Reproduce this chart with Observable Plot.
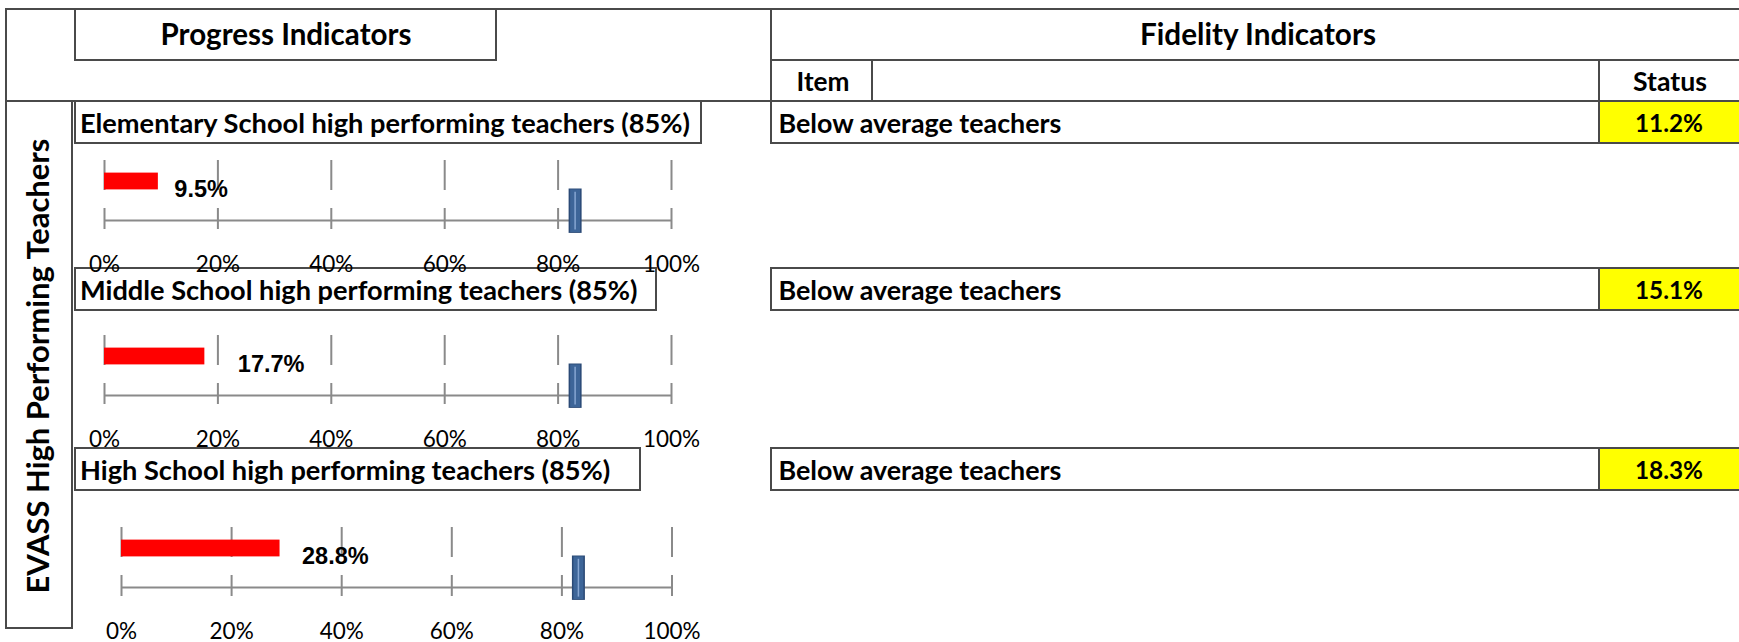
<!DOCTYPE html>
<html><head><meta charset="utf-8">
<script src="https://cdn.jsdelivr.net/npm/d3@7"></script>
<script src="https://cdn.jsdelivr.net/npm/@observablehq/plot@0.6"></script>
<style>
html,body{margin:0;padding:0;background:#fff;}
#root{position:relative;width:1739px;height:642px;overflow:hidden;background:#fff;}
.box{position:absolute;box-sizing:border-box;border:2px solid #4a4a4a;}
.t{position:absolute;white-space:nowrap;color:#000;line-height:1;}
.chart{position:absolute;left:0;}
</style></head><body><div id="root"></div>
<script>
// ---- data ----
const sectionLabel = "EVASS High Performing Teachers";
const progressHeader = "Progress Indicators";
const fidelityHeader = "Fidelity Indicators";
const fidelityColumns = ["Item", "Status"];
const indicators = [
  "Elementary School high performing teachers (85%)",
  "Middle School high performing teachers (85%)",
  "High School high performing teachers (85%)"
];
const progressValues = [9.5, 17.7, 28.8];
const targetValues = [83, 83, 83];
const axisTicks = [0, 20, 40, 60, 80, 100];
const fidelityItems = ["Below average teachers", "Below average teachers", "Below average teachers"];
const fidelityValues = [11.2, 15.1, 18.3];

// ---- layout (pixels) ----
const rows = [
  {top: 101, bottom: 143, titleRight: 701, chartTop: 160, x0: 104, x1: 671, labelDx: 16},
  {top: 268, bottom: 310, titleRight: 656, chartTop: 335, x0: 104, x1: 671, labelDx: 33},
  {top: 448, bottom: 490, titleRight: 640, chartTop: 527, x0: 121, x1: 671.5, labelDx: 22}
];
const root = document.getElementById("root");

function rect(x1, y1, x2, y2, bg) {
  const d = document.createElement("div");
  d.className = "box";
  Object.assign(d.style, {left: (x1 - 1) + "px", top: (y1 - 1) + "px", width: (x2 - x1 + 2) + "px", height: (y2 - y1 + 2) + "px"});
  if (bg) d.style.background = bg;
  root.appendChild(d);
  return d;
}
function label(str, x, y, o = {}) {
  const {anchor = "middle", width = null, size = 22, weight = 700, family = "Lato, 'Open Sans', sans-serif", rotate = false} = o;
  const d = document.createElement("div");
  d.className = "t";
  d.textContent = str;
  Object.assign(d.style, {left: x + "px", top: y + "px", fontFamily: family, fontWeight: weight, fontSize: size + "px"});
  root.appendChild(d);
  let s = size;
  if (width) {
    const w = d.getBoundingClientRect().width;
    s = size * width / w;
    d.style.fontSize = s + "px";
  }
  const tx = anchor === "start" ? "0" : anchor === "end" ? "-100%" : "-50%";
  d.style.transform = `translate(${tx},-50%)` + (rotate ? " rotate(-90deg)" : "");
  return s;
}

// frame
rect(6, 9, 1745, 101);
rect(75, 9, 496, 60);
rect(771, 9, 1745, 60);
rect(771, 60, 872, 101);
rect(872, 60, 1599, 101);
rect(1599, 60, 1745, 101);
rect(6, 101, 72, 628);

label(progressHeader, 286, 34, {width: 251, size: 24});
label(fidelityHeader, 1258, 34, {width: 236, size: 24});
label(fidelityColumns[0], 823, 81, {width: 53, size: 22});
label(fidelityColumns[1], 1670, 81, {width: 74, size: 22});
label(sectionLabel, 37, 366, {width: 455, size: 28, rotate: true});

let titleSize = null;
rows.forEach((L, i) => {
  rect(75, L.top, L.titleRight, L.bottom);
  const cy = (L.top + L.bottom) / 2 + 1;
  if (titleSize === null) titleSize = label(indicators[i], 80, cy, {anchor: "start", width: 610, size: 22});
  else label(indicators[i], 80, cy, {anchor: "start", size: titleSize});
  // fidelity row
  rect(771, L.top, 1745, L.bottom);
  rect(1599, L.top, 1745, L.bottom, "#ffff00");
  label(fidelityItems[i], 778.5, cy, {anchor: "start", width: 283, size: 22});
  label(fidelityValues[i].toFixed(1) + "%", 1669, cy, {width: 68, size: 22});
});

// bullet charts
const gridColor = "#8a8a8a";
rows.forEach((L, i) => {
  const W = 740, mTop = 20, plotH = 60, mBottom = 70;
  const H = mTop + plotH + mBottom;
  const tickEnd = 1 + 9 / plotH;
  const v = progressValues[i], t = targetValues[i];
  const svg = Plot.plot({
    width: W, height: H,
    marginLeft: L.x0, marginRight: W - L.x1, marginTop: mTop, marginBottom: mBottom,
    x: {domain: [0, 100]},
    y: {domain: [0, 1], reverse: true, axis: null},
    style: {background: "transparent", overflow: "visible", fontFamily: "Lato, sans-serif", fontSize: "22.5px", color: "#000"},
    marks: [
      Plot.ruleX(axisTicks, {y1: 0, y2: tickEnd, stroke: gridColor, strokeWidth: 2, strokeDasharray: "30,18"}),
      Plot.ruleY([1], {x1: 0, x2: 100, stroke: gridColor, strokeWidth: 2}),
      Plot.axisX({ticks: axisTicks, tickSize: 0, tickPadding: 36, tickFormat: d => d + "%", fontSize: 22.5, fontFamily: "Lato, sans-serif"}),
      Plot.rect([v], {x1: 0, x2: d => d, y1: 0.21, y2: 0.49, fill: "#ff0000"}),
      Plot.ruleX([t], {y1: 0.475, y2: 1.215, stroke: "#2b4a76", strokeWidth: 13}),
      Plot.ruleX([t], {y1: 0.49, y2: 1.2, stroke: "#3d6598", strokeWidth: 10}),
      Plot.ruleX([t], {y1: 0.53, y2: 1.16, stroke: "#86a6d2", strokeWidth: 1.5}),
      Plot.text([v], {x: d => d, y: 0.49, text: d => d.toFixed(1) + "%", textAnchor: "start", dx: L.labelDx,
        fontWeight: "bold", fontSize: 23.5, fontFamily: "'Liberation Sans', Arial, sans-serif", fill: "#000"})
    ]
  });
  svg.classList.add("chart");
  svg.style.position = "absolute";
  svg.style.left = "0px";
  svg.style.top = (L.chartTop - mTop) + "px";
  root.appendChild(svg);
});
</script>
</body></html>
